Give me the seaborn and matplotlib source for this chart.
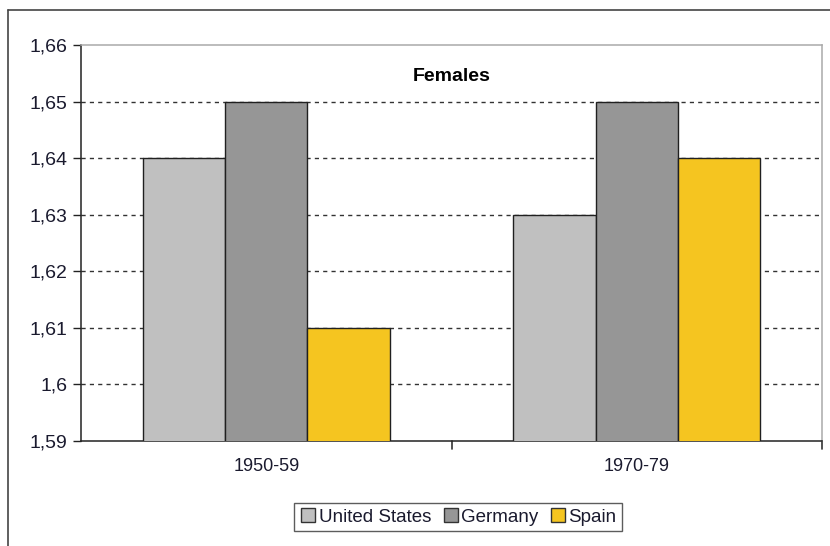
import matplotlib
matplotlib.use("Agg")
import matplotlib.pyplot as plt
import seaborn as sns
import pandas as pd
from matplotlib.ticker import FuncFormatter, FixedLocator
from matplotlib.lines import Line2D

periods = ["1950-59", "1970-79"]
countries = ["United States", "Germany", "Spain"]
us_values = [1.64, 1.63]
germany_values = [1.65, 1.65]
spain_values = [1.61, 1.64]
y_ticks = [1.59, 1.60, 1.61, 1.62, 1.63, 1.64, 1.65, 1.66]
palette = ["#c0c0c0", "#969696", "#f5c520"]

df = pd.DataFrame({
    "period": periods * 3,
    "country": [c for c in countries for _ in periods],
    "height": us_values + germany_values + spain_values,
})

sns.set_style("white")
plt.rcParams["font.family"] = ["Liberation Sans", "DejaVu Sans"]
text_color = "#1a1a2e"

fig = plt.figure(figsize=(8.3, 5.46), dpi=100)
ax = fig.add_axes([81 / 830, 1 - 441 / 546, (822 - 81) / 830, (441 - 45) / 546])

sns.barplot(data=df, x="period", y="height", hue="country", hue_order=countries,
            palette=palette, width=0.667, edgecolor="#202020", linewidth=1.0,
            saturation=1, ax=ax, legend=False, zorder=3)

ax.set_ylim(y_ticks[0], y_ticks[-1])
ax.set_xlim(-0.5, 1.5)
ax.yaxis.set_major_locator(FixedLocator(y_ticks))
ax.yaxis.set_major_formatter(FuncFormatter(lambda v, p: f"{round(v, 2):g}".replace(".", ",")))
# dashed gridlines on the interior ticks only
for y in y_ticks[1:-1]:
    ax.axhline(y, linestyle=(0, (3, 3)), color="#333333", linewidth=1.0, zorder=0)

ax.set_xticks([0, 1])
ax.set_xticklabels(periods)
ax.tick_params(axis="x", length=0, pad=12, labelsize=13, labelcolor=text_color)
ax.tick_params(axis="y", length=6, width=1, color="#222222", direction="out",
               labelsize=14, labelcolor=text_color, left=True, pad=4)
# boundary ticks between categories
for xb in [0.5, 1.5]:
    ax.plot([xb, xb], [0, -0.02], transform=ax.get_xaxis_transform(),
            color="#333333", lw=1.2, clip_on=False)

ax.set_xlabel("")
ax.set_ylabel("")
ax.spines["left"].set_color("#222222")
ax.spines["bottom"].set_color("#222222")
ax.spines["top"].set_color("#aaaaaa")
ax.spines["right"].set_color("#aaaaaa")
for s in ax.spines.values():
    s.set_linewidth(1.1)

ax.text(0.5, 0.92, "Females", transform=ax.transAxes, ha="center", va="center",
        fontsize=14, fontweight="bold", color="black")

handles = [Line2D([0], [0], marker="s", linestyle="none", markersize=10,
                  markerfacecolor=c, markeredgecolor="#333333") for c in palette]
fig.legend(handles, countries, loc="center", bbox_to_anchor=(458 / 830, 1 - 517 / 546),
           ncol=3, frameon=True, fancybox=False, edgecolor="#333333", fontsize=13.5,
           handletextpad=0.1, columnspacing=0.6, borderpad=0.3, handlelength=0.9,
           labelcolor=text_color)

# outer chart frame
fig.add_artist(Line2D([8 / 830, 8 / 830], [0, 1 - 10 / 546], transform=fig.transFigure,
                      color="#444444", lw=1.2))
fig.add_artist(Line2D([8 / 830, 1], [1 - 10 / 546, 1 - 10 / 546], transform=fig.transFigure,
                      color="#444444", lw=1.2))

fig.savefig("out.png", dpi=100)
